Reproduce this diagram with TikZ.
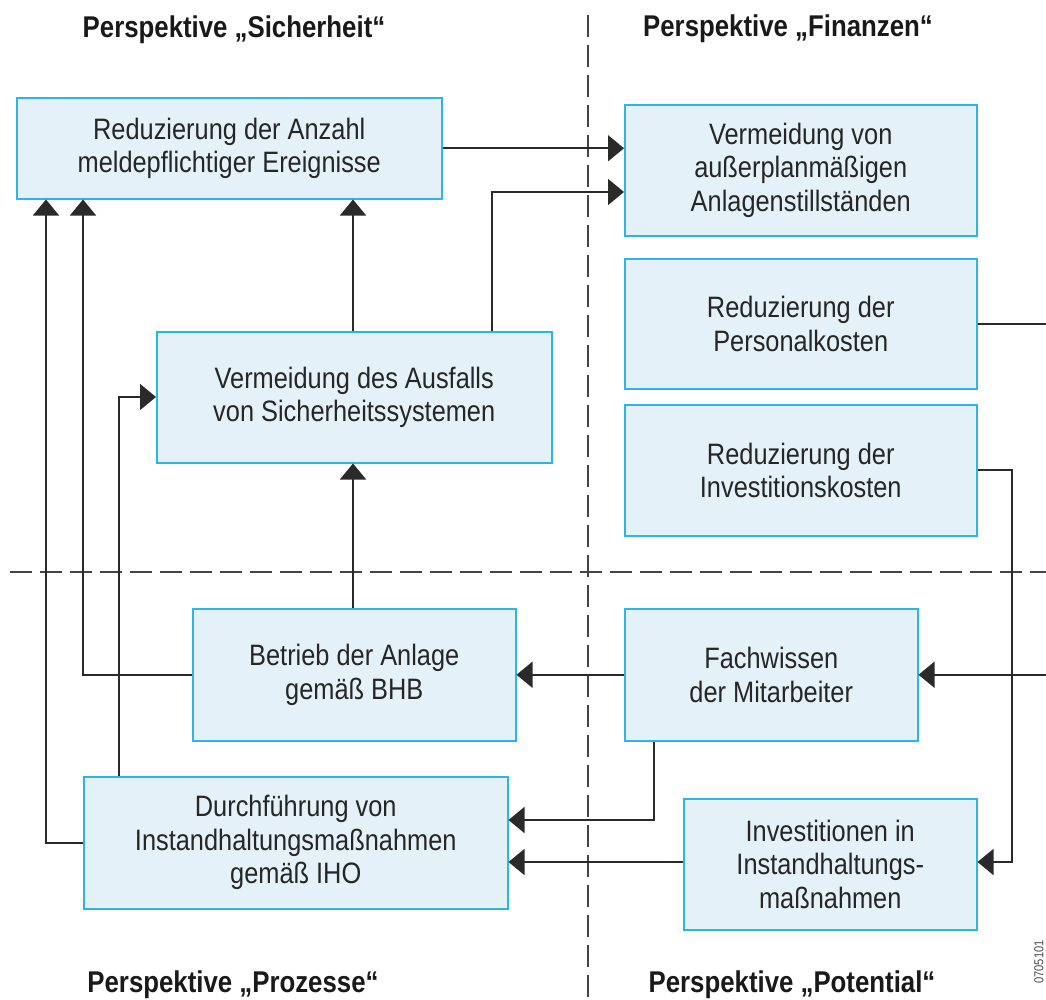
\documentclass[tikz,border=0pt]{standalone}
\usepackage{fontspec}
\setmainfont[FakeStretch=0.86]{Liberation Sans}
\usetikzlibrary{arrows.meta}
\definecolor{boxfill}{HTML}{E4F1F8}
\definecolor{boxline}{HTML}{2BB5EC}
\definecolor{conn}{HTML}{2A2A2A}
\definecolor{dashc}{HTML}{444444}
\tikzset{
  box/.style={draw=boxline, fill=boxfill, line width=1.5pt, rectangle, anchor=north west,
    inner sep=0pt, align=center, font=\fontsize{29.5}{33.5}\selectfont, text=black!85},
  conline/.style={draw=conn, line width=1.6pt},
  arr/.style={conline, -{Triangle[length=16pt, width=26pt]}},
  divider/.style={draw=dashc, line width=1.6pt, dash pattern=on 22pt off 8pt},
  header/.style={font=\bfseries\fontsize{30}{34}\selectfont, text=black!90},
}
\begin{document}
\begin{tikzpicture}[x=1pt, y=-1pt]
\useasboundingbox (0,0) rectangle (1046,999);
% dividers
\draw[divider] (588,15) -- (588,999);
\draw[divider] (10,572) -- (1046,572);
% headers
\node[header] (h1) at (234,30) {Perspektive „Sicherheit“};
\node[header] (h2) at (788,29) {Perspektive „Finanzen“};
\node[header] (h3) at (233,985) {Perspektive „Prozesse“};
\node[header] (h4) at (792,985) {Perspektive „Potential“};
% boxes
\node[box, minimum width=425pt, minimum height=101pt] (b1) at (16,97) {Reduzierung der Anzahl\\meldepflichtiger Ereignisse};
\node[box, minimum width=352pt, minimum height=131pt] (b2) at (624,104) {Vermeidung von\\außerplanmäßigen\\Anlagenstillständen};
\node[box, minimum width=352pt, minimum height=130pt] (b3) at (624,258) {Reduzierung der\\Personalkosten};
\node[box, minimum width=352pt, minimum height=131pt] (b4) at (624,404) {Reduzierung der\\Investitionskosten};
\node[box, minimum width=395pt, minimum height=131pt] (b5) at (156,331) {Vermeidung des Ausfalls\\von Sicherheitssystemen};
\node[box, minimum width=323pt, minimum height=132pt] (b6) at (192,608) {Betrieb der Anlage\\gemäß BHB};
\node[box, minimum width=293pt, minimum height=132pt] (b7) at (624,608) {Fachwissen\\der Mitarbeiter};
\node[box, minimum width=424pt, minimum height=132pt] (b8) at (83,776) {Durchführung von\\Instandhaltungsmaßnahmen\\gemäß IHO};
\node[box, minimum width=293pt, minimum height=131pt] (b9) at (683,798) {Investitionen in\\Instandhaltungs-\\maßnahmen};
% free ends
\coordinate (e1) at (b3.east -| 1046,0);
\coordinate (e2) at (b7.east -| 1046,0);
\coordinate (r1) at (1012,862);
% connectors
\draw[arr] (b1.east) -- (b2.west |- b1.east);
\draw[arr] (b5.north -| 492,0) |- (b2.west |- 0,192);
\draw[arr] (b5.north -| 353,0) -- (b1.south -| 353,0);
\draw[arr] (b6.north -| 353,0) -- (b5.south -| 353,0);
\draw[arr] (b6.west) -| (b1.south -| 83,0);
\draw[arr] (b8.west) -| (b1.south -| 46,0);
\draw[arr] (b8.north -| 119,0) |- (b5.west |- 0,397);
\draw[arr] (b7.west) -- (b6.east);
\draw[arr] (b7.south -| 654,0) |- (b8.east |- 0,820);
\draw[arr] (b9.west |- 0,862) -- (b8.east |- 0,862);
\draw[arr] (b4.east) -| (r1) -- (b9.east |- r1);
\draw[conline] (b3.east) -- (e1);
\draw[arr] (e2) -- (b7.east);
% code
\node[rotate=90, font=\fontsize{13}{15}\selectfont, text=black!70] (code) at (1039,962) {0705101};
\end{tikzpicture}
\end{document}
